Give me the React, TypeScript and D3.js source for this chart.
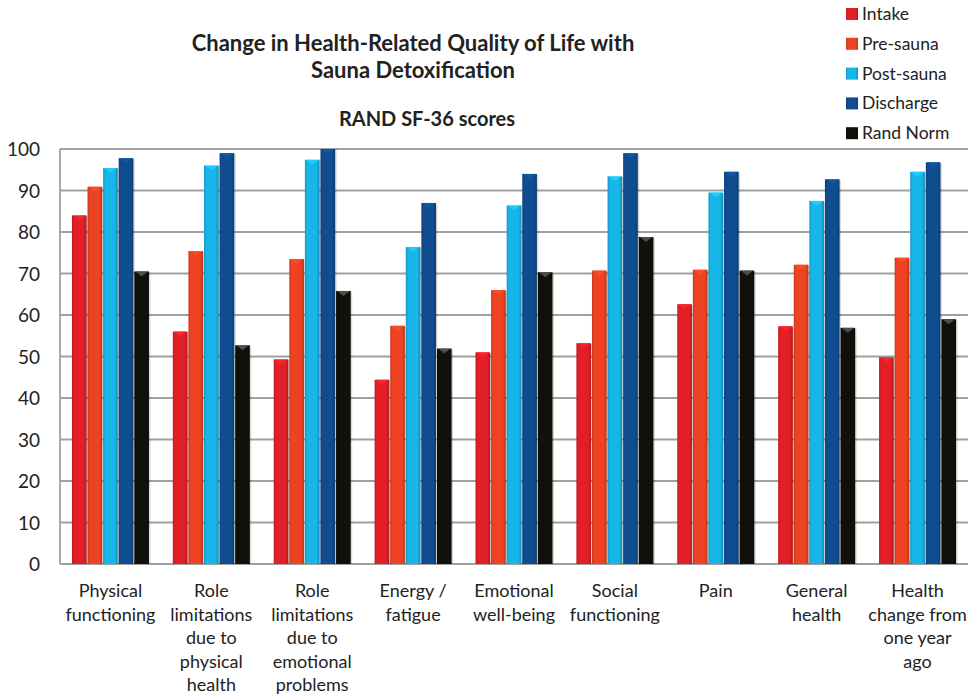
import React from 'react';
import * as d3 from 'd3';

const categories = [
  ['Physical', 'functioning'],
  ['Role', 'limitations', 'due to', 'physical', 'health'],
  ['Role', 'limitations', 'due to', 'emotional', 'problems'],
  ['Energy /', 'fatigue'],
  ['Emotional', 'well-being'],
  ['Social', 'functioning'],
  ['Pain'],
  ['General', 'health'],
  ['Health', 'change from', 'one year', 'ago'],
];

const seriesNames = ['Intake', 'Pre-sauna', 'Post-sauna', 'Discharge', 'Rand Norm'];
const seriesColors = ['#e21f26', '#ee4323', '#17b5e8', '#0f4d90', '#12100a'];

const intake = [84, 56, 49.3, 44.4, 51, 53.2, 62.6, 57.3, 49.8];
const preSauna = [90.9, 75.4, 73.5, 57.4, 66, 70.7, 70.9, 72.1, 73.8];
const postSauna = [95.4, 96, 97.4, 76.4, 86.4, 93.4, 89.5, 87.5, 94.5];
const discharge = [97.8, 99, 100, 87, 94, 99, 94.5, 92.7, 96.8];
const randNorm = [70.5, 52.7, 65.8, 51.9, 70.3, 78.8, 70.7, 56.9, 59];

const seriesValues = [intake, preSauna, postSauna, discharge, randNorm];
const yTicks = [0, 10, 20, 30, 40, 50, 60, 70, 80, 90, 100];

const W = 973;
const H = 697;
const left = 60;
const right = 968;
const top = 149;
const bottom = 564;
const font = 'Lato, "Open Sans", sans-serif';

export default function App() {
  const x = d3.scaleBand<number>().domain(d3.range(categories.length)).range([left, right]);
  const groupW = 77;
  const xs = d3.scaleBand<number>().domain(d3.range(seriesNames.length)).range([0, groupW]).paddingInner(0.06);
  const y = d3.scaleLinear().domain([0, 100]).range([bottom, top]);
  const bw = xs.bandwidth();

  return (
    <svg width={W} height={H} style={{ position: 'absolute', left: 0, top: 0, background: '#fff' }}>
      <defs>
        {seriesColors.map((c, i) => (
          <linearGradient id={`g${i}`} key={i} x1="0" x2="1" y1="0" y2="0">
            <stop offset="0" stopColor={d3.color(c)!.darker(0.5).toString()} />
            <stop offset="0.15" stopColor={c} />
            <stop offset="0.8" stopColor={c} />
            <stop offset="1" stopColor={d3.color(c)!.darker(0.7).toString()} />
          </linearGradient>
        ))}
      </defs>

      {/* titles */}
      <g fontFamily={font} fontWeight="bold" fill="#222" textAnchor="middle">
        <text x={413} y={51} fontSize={22}>Change in Health-Related Quality of Life with</text>
        <text x={413} y={78} fontSize={22}>Sauna Detoxification</text>
        <text x={427} y={126} fontSize={20}>RAND SF-36 scores</text>
      </g>

      {/* grid */}
      {yTicks.map((t) => (
        <g key={t}>
          <line x1={left} x2={right} y1={y(t)} y2={y(t)} stroke="#a0a0a0" strokeWidth={1.8} />
          <text x={40} y={y(t) + 7} textAnchor="end" fontFamily={font} fontSize={19} fill="#222">{t}</text>
        </g>
      ))}
      <line x1={left} x2={left} y1={top} y2={bottom} stroke="#a0a0a0" strokeWidth={1.8} />

      {/* bars */}
      {categories.map((_, ci) => {
        const gx = x(ci)! + (x.bandwidth() - groupW) / 2;
        return (
          <g key={ci}>
            {seriesValues.map((vals, si) => {
              const bx = gx + xs(si)!;
              const by = y(vals[ci]);
              const c = d3.color(seriesColors[si])!;
              return (
                <g key={si}>
                  <rect x={bx + 1.5} y={by + 1} width={bw} height={bottom - by - 1} fill="#000" opacity={0.15} />
                  <rect x={bx} y={by} width={bw} height={bottom - by} fill={`url(#g${si})`} />
                  <path
                    d={`M${bx + 1},${by} L${bx + bw - 1},${by} L${bx + bw / 2},${by + 5} Z`}
                    fill={si === 4 ? '#555' : c.brighter(0.4).toString()}
                    opacity={0.9}
                  />
                </g>
              );
            })}
          </g>
        );
      })}

      {/* x labels */}
      {categories.map((lines, ci) => (
        <text key={ci} x={x(ci)! + x.bandwidth() / 2} y={597} textAnchor="middle" fontFamily={font} fontSize={18} fill="#222">
          {lines.map((l, li) => (
            <tspan key={li} x={x(ci)! + x.bandwidth() / 2} dy={li === 0 ? 0 : 23.5}>{l}</tspan>
          ))}
        </text>
      ))}

      {/* legend */}
      {seriesNames.map((n, i) => (
        <g key={n} transform={`translate(846, ${14 + i * 29.8})`}>
          <rect x={0} y={-6} width={12} height={12} fill={`url(#g${i})`} />
          <text x={16} y={6} fontFamily={font} fontSize={17.5} fill="#222">{n}</text>
        </g>
      ))}
    </svg>
  );
}
